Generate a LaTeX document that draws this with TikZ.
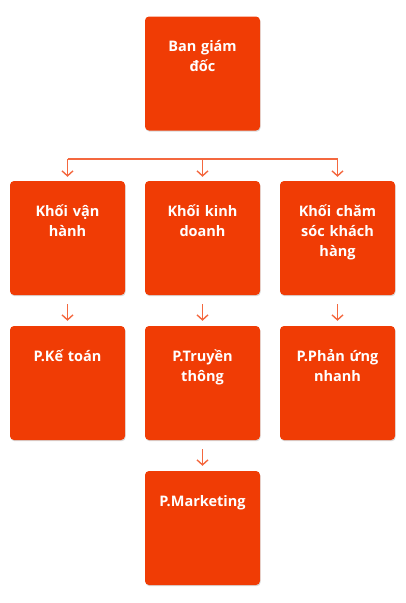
\documentclass[tikz,border=0pt]{standalone}
\usepackage{fontspec}
\setmainfont{Open Sans}
\usetikzlibrary{arrows.meta,shadows}
\definecolor{boxc}{HTML}{F03C05}
\definecolor{linec}{HTML}{F4683F}
\tikzset{
  box/.style={rectangle, rounded corners=4pt, fill=boxc, minimum width=115pt, minimum height=114pt, inner sep=0pt,
    drop shadow={shadow xshift=0.6pt, shadow yshift=-1.2pt, opacity=0.25, fill=black!60}},
  txt/.style={text=white, font=\bfseries\fontsize{14.5}{20}\selectfont, text width=112pt, align=center, inner sep=0pt, anchor=base},
  conn/.style={draw=linec, line width=1.4pt},
  arr/.style={conn, -{Straight Barb[length=5pt,width=11pt,line width=1.4pt]}}
}
\begin{document}
\begin{tikzpicture}[x=1pt,y=-1pt]
\useasboundingbox (0,0) rectangle (406,603);
% boxes
\node[box] (bgd) at (202.5,73.5) {};
\node[box] (kvh) at (67.5,238) {};
\node[box] (kkd) at (202.5,238) {};
\node[box] (kcs) at (337.5,238) {};
\node[box] (pkt) at (67.5,383) {};
\node[box] (ptt) at (202.5,383) {};
\node[box] (ppu) at (337.5,383) {};
\node[box] (pmk) at (202.5,528) {};
% texts
\node[txt] (tbgd) at ([yshift=-35pt]bgd.north) {Ban giám\\đốc};
\node[txt] (tkvh) at ([yshift=-36pt]kvh.north) {Khối vận\\hành};
\node[txt] (tkkd) at ([yshift=-36pt]kkd.north) {Khối kinh\\doanh};
\node[txt] (tkcs) at ([yshift=-36pt]kcs.north) {Khối chăm\\sóc khách\\hàng};
\node[txt] (tpkt) at ([yshift=-36pt]pkt.north) {P.Kế toán};
\node[txt] (tptt) at ([yshift=-36pt]ptt.north) {P.Truyền\\thông};
\node[txt] (tppu) at ([yshift=-36pt]ppu.north) {P.Phản ứng\\nhanh};
\node[txt] (tpmk) at ([yshift=-36pt]pmk.north) {P.Marketing};
% connectors
\coordinate (hl) at (67.5,159);
\coordinate (hm) at (202.5,159);
\coordinate (hr) at (337.5,159);
\draw[conn] (hl) -- (hr);
\draw[arr] (hl) -- ([yshift=4pt]kvh.north);
\draw[arr] (hm) -- ([yshift=4pt]kkd.north);
\draw[arr] (hr) -- ([yshift=4pt]kcs.north);
\draw[arr] ([yshift=-9pt]kvh.south) -- ([yshift=5pt]pkt.north);
\draw[arr] ([yshift=-9pt]kkd.south) -- ([yshift=5pt]ptt.north);
\draw[arr] ([yshift=-9pt]kcs.south) -- ([yshift=5pt]ppu.north);
\draw[arr] ([yshift=-9pt]ptt.south) -- ([yshift=5pt]pmk.north);
\end{tikzpicture}
\end{document}
